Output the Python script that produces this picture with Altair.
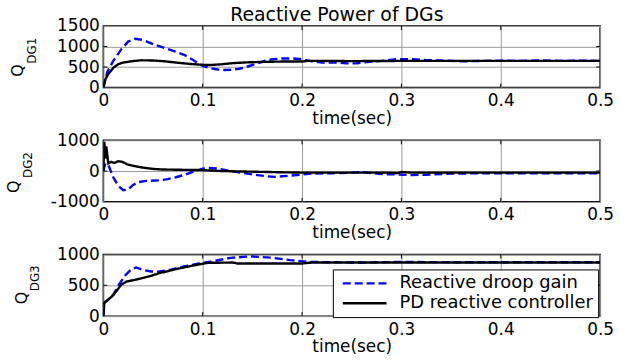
import altair as alt
import pandas as pd

FONT = "DejaVu Sans"
FS = 17

# ---- tick labels / categories ----
time_ticks = [0, 0.1, 0.2, 0.3, 0.4, 0.5]
y1_ticks = [0, 500, 1000, 1500]
y2_ticks = [-1000, 0, 1000]
y3_ticks = [0, 500, 1000]
series_names = ["Reactive droop gain", "PD reactive controller"]
series_colors = ["#0000ff", "#000000"]
chart_title = "Reactive Power of DGs"
x_title = "time(sec)"

# ---- DG1 ----
dg1_droop_t = [0, 0.004, 0.01, 0.018, 0.025, 0.032, 0.04, 0.05, 0.062, 0.072, 0.082, 0.09, 0.095,
               0.1, 0.108, 0.115, 0.122, 0.13, 0.138, 0.146, 0.155, 0.162, 0.17, 0.18, 0.19, 0.2,
               0.21, 0.22, 0.235, 0.245, 0.255, 0.265, 0.28, 0.295, 0.31, 0.325, 0.34, 0.36, 0.38,
               0.4, 0.42, 0.44, 0.46, 0.48, 0.5]
dg1_droop_v = [0, 380, 650, 930, 1120, 1190, 1160, 1060, 960, 880, 790, 680, 600,
               530, 470, 440, 430, 435, 465, 520, 590, 650, 690, 710, 710, 690,
               640, 610, 610, 590, 590, 620, 650, 690, 690, 670, 660, 640, 650,
               655, 650, 660, 650, 655, 650]
dg1_pd_t = [0, 0.002, 0.005, 0.01, 0.015, 0.02, 0.028, 0.038, 0.05, 0.062, 0.075, 0.088, 0.1,
            0.108, 0.118, 0.13, 0.145, 0.16, 0.18, 0.2, 0.205, 0.22, 0.25, 0.3, 0.35, 0.4, 0.45, 0.5]
dg1_pd_v = [0, 200, 330, 480, 570, 610, 640, 665, 660, 640, 605, 575, 555,
            550, 565, 595, 615, 625, 635, 635, 650, 650, 645, 650, 650, 650, 650, 650]

# ---- DG2 ----
dg2_droop_t = [0, 0.002, 0.005, 0.01, 0.015, 0.02, 0.025, 0.03, 0.035, 0.043, 0.057, 0.065, 0.073,
               0.082, 0.09, 0.1, 0.106, 0.115, 0.128, 0.14, 0.155, 0.165, 0.172, 0.18, 0.195, 0.21,
               0.23, 0.245, 0.26, 0.28, 0.295, 0.31, 0.325, 0.35, 0.4, 0.45, 0.5]
dg2_droop_v = [0, 250, 200, -200, -480, -620, -600, -450, -360, -320, -300, -260, -200,
               -120, -30, 80, 100, 80, 0, -60, -130, -170, -190, -170, -130, -80,
               -70, -60, -30, -100, -110, -130, -120, -80, -70, -70, -70]
dg2_pd_t = [0, 0.001, 0.002, 0.003, 0.005, 0.008, 0.011, 0.015, 0.019, 0.024, 0.03, 0.04, 0.05,
            0.06, 0.08, 0.1, 0.12, 0.15, 0.18, 0.2, 0.25, 0.29, 0.295, 0.3, 0.31, 0.35, 0.4, 0.45, 0.5]
dg2_pd_v = [0, 950, 400, 800, 250, 300, 260, 320, 300, 220, 170, 110, 70,
            50, 40, 30, 0, -20, -40, -50, -50, -50, -70, -30, -50, -50, -50, -50, -50]

# ---- DG3 ----
dg3_droop_t = [0, 0.001, 0.003, 0.01, 0.016, 0.022, 0.028, 0.033, 0.04, 0.048, 0.055, 0.068, 0.082,
               0.095, 0.108, 0.128, 0.148, 0.168, 0.188, 0.208, 0.23, 0.26, 0.3, 0.35, 0.4, 0.45, 0.5]
dg3_droop_v = [0, 220, 240, 350, 520, 660, 760, 790, 750, 725, 720, 755, 810,
               850, 885, 945, 970, 950, 910, 880, 875, 870, 880, 875, 875, 875, 875]
dg3_pd_t = [0, 0.001, 0.003, 0.01, 0.018, 0.023, 0.032, 0.045, 0.057, 0.075, 0.09, 0.1, 0.105,
            0.13, 0.135, 0.2, 0.21, 0.3, 0.4, 0.5]
dg3_pd_v = [0, 220, 240, 340, 510, 560, 590, 640, 700, 770, 820, 850, 865,
            870, 855, 855, 870, 870, 870, 870]

W = 500
H = 62


def make_df(t, v, name):
    return pd.DataFrame({"t": t, "v": v, "series": name})


def panel(droop, pd_, ydom, yticks, sub, qxy, sxy, title=None, legend=False):
    xscale = alt.Scale(domain=[0, 0.5], nice=False, zero=False)
    yscale = alt.Scale(domain=ydom, nice=False, zero=False)
    xenc = alt.X("t:Q", scale=xscale,
                 axis=alt.Axis(values=time_ticks, format=".1~f", title=x_title,
                               labelFlush=False, labelOverlap=False,
                               labelPadding=5, titlePadding=2))
    yenc = alt.Y("v:Q", scale=yscale,
                 axis=alt.Axis(values=yticks, labelExpr="'' + datum.value", title=None,
                               grid=True, labelFlush=False, labelOverlap=False, labelPadding=4))
    if legend:
        leg = alt.Legend(orient="none", legendX=231, legendY=15, title=None,
                         fillColor="white", strokeColor="black", padding=5,
                         symbolType="M-4,0H4", symbolSize=121, symbolStrokeWidth=2.4,
                         symbolOffset=18, labelOffset=26, rowPadding=2,
                         labelFont=FONT, labelFontSize=18, labelLimit=400,
                         labelColor="black")
    else:
        leg = None
    cenc = alt.Color("series:N", scale=alt.Scale(domain=series_names, range=series_colors), legend=leg)
    denc = alt.StrokeDash("series:N", scale=alt.Scale(domain=series_names, range=[[8, 4], [1, 0]]), legend=leg)

    l_droop = alt.Chart(droop).mark_line(strokeWidth=2.4, clip=True).encode(
        x=xenc, y=yenc, color=cenc, strokeDash=denc)
    l_pd = alt.Chart(pd_).mark_line(strokeWidth=2.4, clip=True).encode(
        x=xenc, y=yenc, color=cenc, strokeDash=denc)

    xt = pd.DataFrame({"t": time_ticks[1:-1]})
    yt = pd.DataFrame({"v": yticks[1:-1]})
    tk_top = alt.Chart(xt).mark_rule(color="black", strokeWidth=1).encode(
        x=xenc, y=alt.value(0), y2=alt.value(4))
    tk_bot = alt.Chart(xt).mark_rule(color="black", strokeWidth=1).encode(
        x=xenc, y=alt.value(H), y2=alt.value(H - 4))
    tk_l = alt.Chart(yt).mark_rule(color="black", strokeWidth=1).encode(
        y=yenc, x=alt.value(0), x2=alt.value(4))
    tk_r = alt.Chart(yt).mark_rule(color="black", strokeWidth=1).encode(
        y=yenc, x=alt.value(W), x2=alt.value(W - 4))

    qdf = pd.DataFrame({"q": ["Q"], "s": [sub]})
    qtxt = alt.Chart(qdf).mark_text(angle=270, align="left", baseline="alphabetic",
                                    font=FONT, fontSize=16, color="black").encode(
        x=alt.value(qxy[0]), y=alt.value(qxy[1]), text="q:N")
    stxt = alt.Chart(qdf).mark_text(angle=270, align="left", baseline="alphabetic",
                                    font=FONT, fontSize=12, color="black").encode(
        x=alt.value(sxy[0]), y=alt.value(sxy[1]), text="s:N")

    ch = alt.layer(l_droop, l_pd, tk_top, tk_bot, tk_l, tk_r, qtxt, stxt)
    props = dict(width=W, height=H)
    if title:
        props["title"] = alt.TitleParams(title, font=FONT, fontSize=19, fontWeight="normal",
                                         color="black", dx=-15, offset=-8)
    return ch.properties(**props)


p1 = panel(make_df(dg1_droop_t, dg1_droop_v, series_names[0]),
           make_df(dg1_pd_t, dg1_pd_v, series_names[1]),
           [0, 1500], y1_ticks, "DG1", (-81, 51), (-68, 38), title=chart_title)
p2 = panel(make_df(dg2_droop_t, dg2_droop_v, series_names[0]),
           make_df(dg2_pd_t, dg2_pd_v, series_names[1]),
           [-1000, 1000], y2_ticks, "DG2", (-85, 53), (-72, 38))
p3 = panel(make_df(dg3_droop_t, dg3_droop_v, series_names[0]),
           make_df(dg3_pd_t, dg3_pd_v, series_names[1]),
           [0, 1000], y3_ticks, "DG3", (-77, 50), (-65, 37), legend=True)

chart = alt.vconcat(p1, p2, p3, spacing=53, bounds="flush").resolve_scale(
    color="independent", strokeDash="independent"
).properties(
    padding={"left": 5, "top": 4, "right": 5, "bottom": 5},
    background="white",
).configure_view(
    stroke="black", strokeWidth=1.5
).configure_axis(
    labelFont=FONT, labelFontSize=FS, labelColor="black",
    titleFont=FONT, titleFontSize=FS, titleFontWeight="normal", titleColor="black",
    gridColor="#999999", gridOpacity=1, gridWidth=1,
    domain=False, ticks=False,
)

chart.save("out.html", embed_options={"renderer": "svg", "actions": False})
